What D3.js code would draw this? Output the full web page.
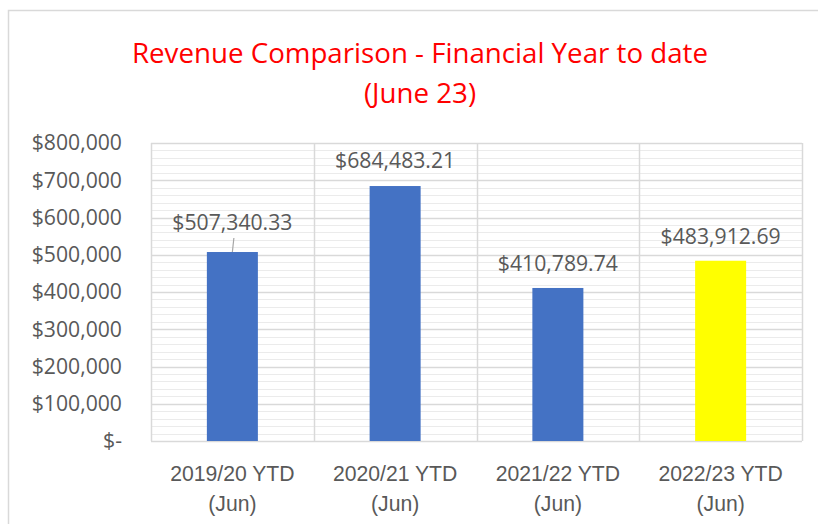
<!DOCTYPE html>
<html>
<head>
<meta charset="utf-8">
<script src="https://cdn.jsdelivr.net/npm/d3@7"></script>
<style>
  html, body { margin: 0; padding: 0; background: #fff; }
  svg { display: block; font-family: "Open Sans", sans-serif; }
</style>
</head>
<body>
<div id="chart"></div>
<script>
// Chart data
const categories = ['2019/20 YTD|(Jun)', '2020/21 YTD|(Jun)', '2021/22 YTD|(Jun)', '2022/23 YTD|(Jun)'];
const revenue = [507340.33, 684483.21, 410789.74, 483912.69];
const yTicks = [0, 100000, 200000, 300000, 400000, 500000, 600000, 700000, 800000];
const titleLines = ['Revenue Comparison - Financial Year to date', '(June 23)'];

const width = 818, height = 524;
const margin = { top: 143, right: 16, bottom: 83, left: 151 };
const textColor = '#595959';
const barColors = ['#4472C4', '#4472C4', '#4472C4', '#FFFF00'];

const svg = d3.select('#chart')
  .append('svg')
  .attr('width', width)
  .attr('height', height);

// Outer chart frame (only top and left edges are inside the picture)
svg.append('rect')
  .attr('x', 8.5).attr('y', 10.5)
  .attr('width', 840).attr('height', 540)
  .attr('fill', 'none')
  .attr('stroke', '#d9d9d9')
  .attr('stroke-width', 1.5);

// Title
svg.append('g')
  .selectAll('text')
  .data(titleLines)
  .enter()
  .append('text')
  .attr('x', 420)
  .attr('y', (d, i) => 52 + i * 40)
  .attr('text-anchor', 'middle')
  .attr('dominant-baseline', 'central')
  .attr('fill', '#FF0000')
  .attr('font-size', 27.7)
  .text(d => d);

const x = d3.scaleBand()
  .domain(categories)
  .range([margin.left, width - margin.right])
  .padding(0);

const y = d3.scaleLinear()
  .domain([0, 800000])
  .range([height - margin.bottom, margin.top]);

const barWidth = x.bandwidth() / 3.19;

// Minor gridlines
const minorTicks = d3.range(0, 800001, 20000).filter(v => v % 100000 !== 0);
svg.append('g')
  .selectAll('line')
  .data(minorTicks)
  .enter()
  .append('line')
  .attr('x1', margin.left).attr('x2', width - margin.right)
  .attr('y1', d => Math.round(y(d)) + 0.5)
  .attr('y2', d => Math.round(y(d)) + 0.5)
  .attr('stroke', '#ebebeb')
  .attr('stroke-width', 1);

// Major gridlines
svg.append('g')
  .selectAll('line')
  .data(yTicks)
  .enter()
  .append('line')
  .attr('x1', margin.left).attr('x2', width - margin.right)
  .attr('y1', d => Math.round(y(d)) + 0.5)
  .attr('y2', d => Math.round(y(d)) + 0.5)
  .attr('stroke', '#d9d9d9')
  .attr('stroke-width', 1.5);

// Vertical gridlines at category boundaries
const boundaries = categories.map(c => x(c)).concat([x.range()[1]]);
svg.append('g')
  .selectAll('line')
  .data(boundaries)
  .enter()
  .append('line')
  .attr('x1', d => Math.round(d) + 0.5).attr('x2', d => Math.round(d) + 0.5)
  .attr('y1', y(800000)).attr('y2', y(0))
  .attr('stroke', '#d9d9d9')
  .attr('stroke-width', 1.5);

// Y axis labels
const fmt = v => v === 0 ? '$-' : '$' + d3.format(',')(v);
const yAxis = d3.axisLeft(y).tickValues(yTicks).tickFormat(fmt).tickSize(0).tickPadding(29);
const yg = svg.append('g')
  .attr('transform', `translate(${margin.left},0)`)
  .call(yAxis);
yg.select('.domain').remove();
yg.selectAll('text')
  .attr('fill', textColor)
  .attr('font-size', 21.2)
  .attr('font-family', '"Open Sans", sans-serif');

// X axis labels (two lines)
const xg = svg.append('g')
  .attr('transform', `translate(0,${y(0)})`)
  .call(d3.axisBottom(x).tickSize(0).tickFormat(''));
xg.select('.domain').remove();
xg.selectAll('.tick').each(function(d) {
  const parts = d.split('|');
  const t = d3.select(this).append('text')
    .attr('fill', textColor)
    .attr('font-size', 21.2)
    .attr('text-anchor', 'middle');
  parts.forEach((p, i) => {
    t.append('tspan')
      .attr('x', 0)
      .attr('y', 32 + i * 30)
      .attr('dominant-baseline', 'central')
      .text(p);
  });
});

// Bars
svg.append('g')
  .selectAll('rect')
  .data(revenue)
  .enter()
  .append('rect')
  .attr('x', (d, i) => x(categories[i]) + (x.bandwidth() - barWidth) / 2)
  .attr('y', d => y(d))
  .attr('width', barWidth)
  .attr('height', d => y(0) - y(d))
  .attr('fill', (d, i) => barColors[i]);

// Data labels (first label was dragged up in the original, with a leader line)
const labelLift = [31, 27, 25, 25];
const labelFmt = v => '$' + d3.format(',.2f')(v);
const labels = svg.append('g');
labels.selectAll('text')
  .data(revenue)
  .enter()
  .append('text')
  .attr('x', (d, i) => x(categories[i]) + x.bandwidth() / 2)
  .attr('y', (d, i) => y(d) - labelLift[i])
  .attr('text-anchor', 'middle')
  .attr('dominant-baseline', 'central')
  .attr('fill', textColor)
  .attr('font-size', 21.2)
  .text(labelFmt);

// Leader line for first label
labels.append('line')
  .attr('x1', x(categories[0]) + x.bandwidth() / 2 + 1.5)
  .attr('y1', y(revenue[0]) - labelLift[0] + 17)
  .attr('x2', x(categories[0]) + x.bandwidth() / 2)
  .attr('y2', y(revenue[0]))
  .attr('stroke', '#a6a6a6')
  .attr('stroke-width', 1.2);
</script>
</body>
</html>
